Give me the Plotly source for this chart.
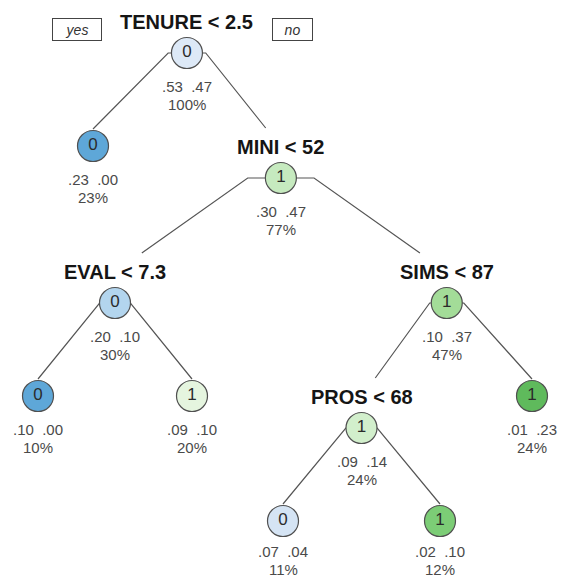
import plotly.graph_objects as go

# ---------------- data (decision tree) ----------------
node_parent = [None, 0, 0, 2, 3, 3, 2, 6, 7, 7, 6]
node_split = ["TENURE < 2.5", None, "MINI < 52", "EVAL < 7.3", None, None,
              "SIMS < 87", "PROS < 68", None, None, None]
node_class = ["0", "0", "1", "0", "0", "1", "1", "1", "0", "1", "1"]
prob_0 = [".53", ".23", ".30", ".20", ".10", ".09", ".10", ".09", ".07", ".02", ".01"]
prob_1 = [".47", ".00", ".47", ".10", ".00", ".10", ".37", ".14", ".04", ".10", ".23"]
node_pct = [100, 23, 77, 30, 10, 20, 47, 24, 11, 12, 24]
branch_yes = "yes"
branch_no = "no"

# ---------------- layout / style ----------------
W, H = 561, 579
FONT = "Liberation Sans, Arial, sans-serif"
leaf_x = {1: 93, 4: 38, 5: 192, 8: 283, 9: 440, 10: 532}   # horizontal slots of leaves
level_top, level_gap, leaf_lift = 53, 125, 32
label_gap = 31
pct_gap, line_gap = 51, 18
node_fill = ["#dde9f7", "#5ea7d8", "#c6eabf", "#b3d5ee", "#5ea7d8", "#e5f5df",
             "#a3dc98", "#d2efcc", "#d5e4f4", "#7ccd76", "#5fba5c"]
edge_color = "#555555"

n = len(node_parent)
children = {i: [j for j in range(n) if node_parent[j] == i] for i in range(n)}
is_leaf = [len(children[i]) == 0 for i in range(n)]
depth = []
for i in range(n):
    d, p = 0, node_parent[i]
    while p is not None:
        d, p = d + 1, node_parent[p]
    depth.append(d)

xs = [0.0] * n
def place_x(i):
    if is_leaf[i]:
        xs[i] = leaf_x[i]
    else:
        for c in children[i]:
            place_x(c)
        xs[i] = sum(xs[c] for c in children[i]) / len(children[i])
place_x(0)
ys = [level_top + level_gap * depth[i] - (leaf_lift if is_leaf[i] else 0) for i in range(n)]

# ---------------- edges ----------------
ex, ey = [], []
for c in range(1, n):
    p = node_parent[c]
    sx, sy = xs[p] + 0.2 * (xs[c] - xs[p]), ys[p]
    if is_leaf[c]:
        tx, ty = xs[c], ys[c] - 17
    else:
        lx, ly = xs[c], ys[c] - label_gap
        t = (ly - 19 - sy) / (ly - sy)
        tx, ty = sx + t * (lx - sx), sy + t * (ly - sy)
    ex += [xs[p], sx, tx, None]
    ey += [ys[p], sy, ty, None]

fig = go.Figure()
fig.add_trace(go.Scatter(x=ex, y=ey, mode="lines",
                         line=dict(color=edge_color, width=1.2),
                         hoverinfo="skip", showlegend=False))
fig.add_trace(go.Scatter(
    x=xs, y=ys, mode="markers+text", text=node_class,
    textposition="middle center",
    textfont=dict(family=FONT, size=17, color="#2b2b2b"),
    marker=dict(size=31, color=node_fill, line=dict(color="#505050", width=1.2)),
    hoverinfo="skip", showlegend=False))

annotations = []
stat_font = dict(family=FONT, size=15, color="#4a4a4a")
for i in range(n):
    if node_split[i]:
        annotations.append(dict(
            x=xs[i], y=ys[i] - label_gap, text=node_split[i], showarrow=False,
            xanchor="center", yanchor="middle",
            font=dict(family=FONT, size=20, color="#151515", weight="bold")))
    pct_y = min(ys[i] + pct_gap, H - 10)
    annotations.append(dict(
        x=xs[i], y=pct_y - line_gap,
        text=f"{prob_0[i]}\u00a0\u00a0{prob_1[i]}",
        showarrow=False, xanchor="center", yanchor="middle",
        bgcolor="white", borderpad=3, font=stat_font))
    annotations.append(dict(
        x=xs[i], y=pct_y, text=f"{node_pct[i]}%",
        showarrow=False, xanchor="center", yanchor="middle",
        bgcolor="white", borderpad=0, font=stat_font))

annotations.append(dict(
    x=xs[0] - 110, y=ys[0] - 24, text=f"<i>{branch_yes}</i>", showarrow=False,
    xanchor="center", yanchor="middle", width=46, height=19, borderpad=1,
    bordercolor="#444444", borderwidth=1, bgcolor="white",
    font=dict(family=FONT, size=14, color="#333333")))
annotations.append(dict(
    x=xs[0] + 106, y=ys[0] - 24, text=f"<i>{branch_no}</i>", showarrow=False,
    xanchor="center", yanchor="middle", width=37, height=19, borderpad=1,
    bordercolor="#444444", borderwidth=1, bgcolor="white",
    font=dict(family=FONT, size=14, color="#333333")))

fig.update_layout(
    width=W, height=H, margin=dict(l=0, r=0, t=0, b=0),
    paper_bgcolor="white", plot_bgcolor="white",
    xaxis=dict(range=[0, W], visible=False, fixedrange=True),
    yaxis=dict(range=[H, 0], visible=False, fixedrange=True),
    annotations=annotations, showlegend=False)

fig.write_html("out.html", config={"displayModeBar": False},
               post_script="document.body.style.margin='0px';"
                           "document.body.style.overflow='hidden';")
